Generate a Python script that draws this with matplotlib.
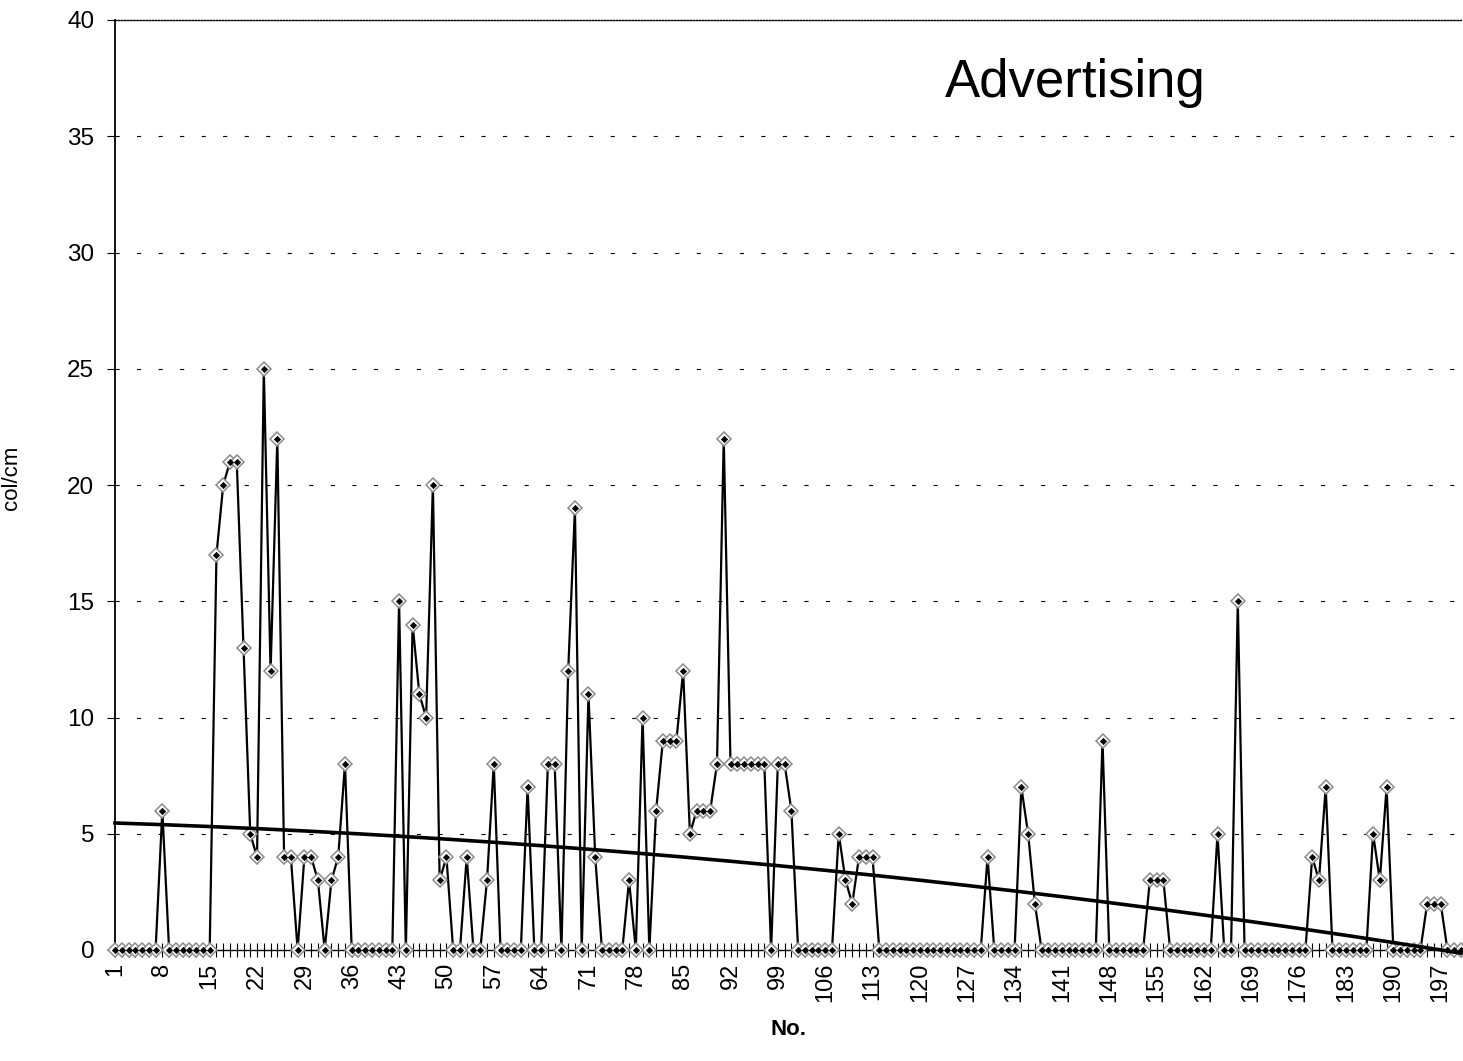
import numpy as np
import matplotlib
matplotlib.use("Agg")
import matplotlib.pyplot as plt

plt.rcParams["font.family"] = ["Liberation Sans", "DejaVu Sans"]
plt.rcParams["lines.scale_dashes"] = False

# Issue numbers and advertising space (col/cm) per issue
issue_no = list(range(1, 201))
col_cm = [
    0, 0, 0, 0, 0, 0, 0, 6, 0, 0,
    0, 0, 0, 0, 0, 17, 20, 21, 21, 13,
    5, 4, 25, 12, 22, 4, 4, 0, 4, 4,
    3, 0, 3, 4, 8, 0, 0, 0, 0, 0,
    0, 0, 15, 0, 14, 11, 10, 20, 3, 4,
    0, 0, 4, 0, 0, 3, 8, 0, 0, 0,
    0, 7, 0, 0, 8, 8, 0, 12, 19, 0,
    11, 4, 0, 0, 0, 0, 3, 0, 10, 0,
    6, 9, 9, 9, 12, 5, 6, 6, 6, 8,
    22, 8, 8, 8, 8, 8, 8, 0, 8, 8,
    6, 0, 0, 0, 0, 0, 0, 5, 3, 2,
    4, 4, 4, 0, 0, 0, 0, 0, 0, 0,
    0, 0, 0, 0, 0, 0, 0, 0, 0, 4,
    0, 0, 0, 0, 7, 5, 2, 0, 0, 0,
    0, 0, 0, 0, 0, 0, 9, 0, 0, 0,
    0, 0, 0, 3, 3, 3, 0, 0, 0, 0,
    0, 0, 0, 5, 0, 0, 15, 0, 0, 0,
    0, 0, 0, 0, 0, 0, 0, 4, 3, 7,
    0, 0, 0, 0, 0, 0, 5, 3, 7, 0,
    0, 0, 0, 0, 2, 2, 2, 0, 0, 0,
]
y_ticks = [0, 5, 10, 15, 20, 25, 30, 35, 40]
label_step = 7
trend_order = 2

x = np.array(issue_no)
y = np.array(col_cm, dtype=float)

# polynomial trend through the series
coef = np.polyfit(x, y, trend_order)
trend = np.polyval(coef, x)

W, H = 1463, 1061
fig = plt.figure(figsize=(W / 100, H / 100), dpi=100)
ax = fig.add_axes([115 / W, 1 - 950 / H, (1461 - 115) / W, (950 - 20) / H])

# dashed horizontal gridlines
for v in y_ticks[1:-1]:
    ax.axhline(v, color="black", lw=0.8, ls=(0, (3, 12.5)), zorder=1)

ax.plot(x, y, color="black", lw=1.6, zorder=3, clip_on=False)
ax.plot(x, y, ls="none", marker="D", ms=7.5, mfc="white", mec="#8c8c8c",
        mew=1.1, zorder=4, clip_on=False)
ax.plot(x, y, ls="none", marker="D", ms=3.2, mfc="black", mec="black",
        mew=0.5, zorder=5, clip_on=False)
ax.plot(x, trend, color="black", lw=2.6, zorder=6, clip_on=False)

ax.set_xlim(issue_no[0], issue_no[-1])
ax.set_ylim(y_ticks[0], y_ticks[-1])

ax.set_xticks(issue_no)
ax.set_xticklabels([str(n) if (n - issue_no[0]) % label_step == 0 else ""
                    for n in issue_no])
ax.tick_params(axis="x", direction="inout", length=10, width=0.8,
               labelsize=17, labelrotation=90, pad=4)
ax.set_yticks(y_ticks)
ax.tick_params(axis="y", direction="out", length=6, width=0.8,
               labelsize=17.5, pad=9)

ax.spines["right"].set_visible(False)
ax.spines["top"].set_linestyle((0, (1, 1.2)))
ax.spines["top"].set_linewidth(1.0)
ax.spines["left"].set_linewidth(1.3)
ax.spines["bottom"].set_linewidth(1.0)

ax.set_ylabel("col/cm", fontsize=16)
ax.yaxis.set_label_coords((22 - 115) / (1461 - 115), (950 - 478) / (950 - 20))
ax.set_xlabel("No.", fontsize=16, fontweight="bold", labelpad=12)

fig.text(945 / W, 1 - 97 / H, "Advertising", fontsize=38,
         ha="left", va="baseline")

fig.savefig("out.png", dpi=100)
